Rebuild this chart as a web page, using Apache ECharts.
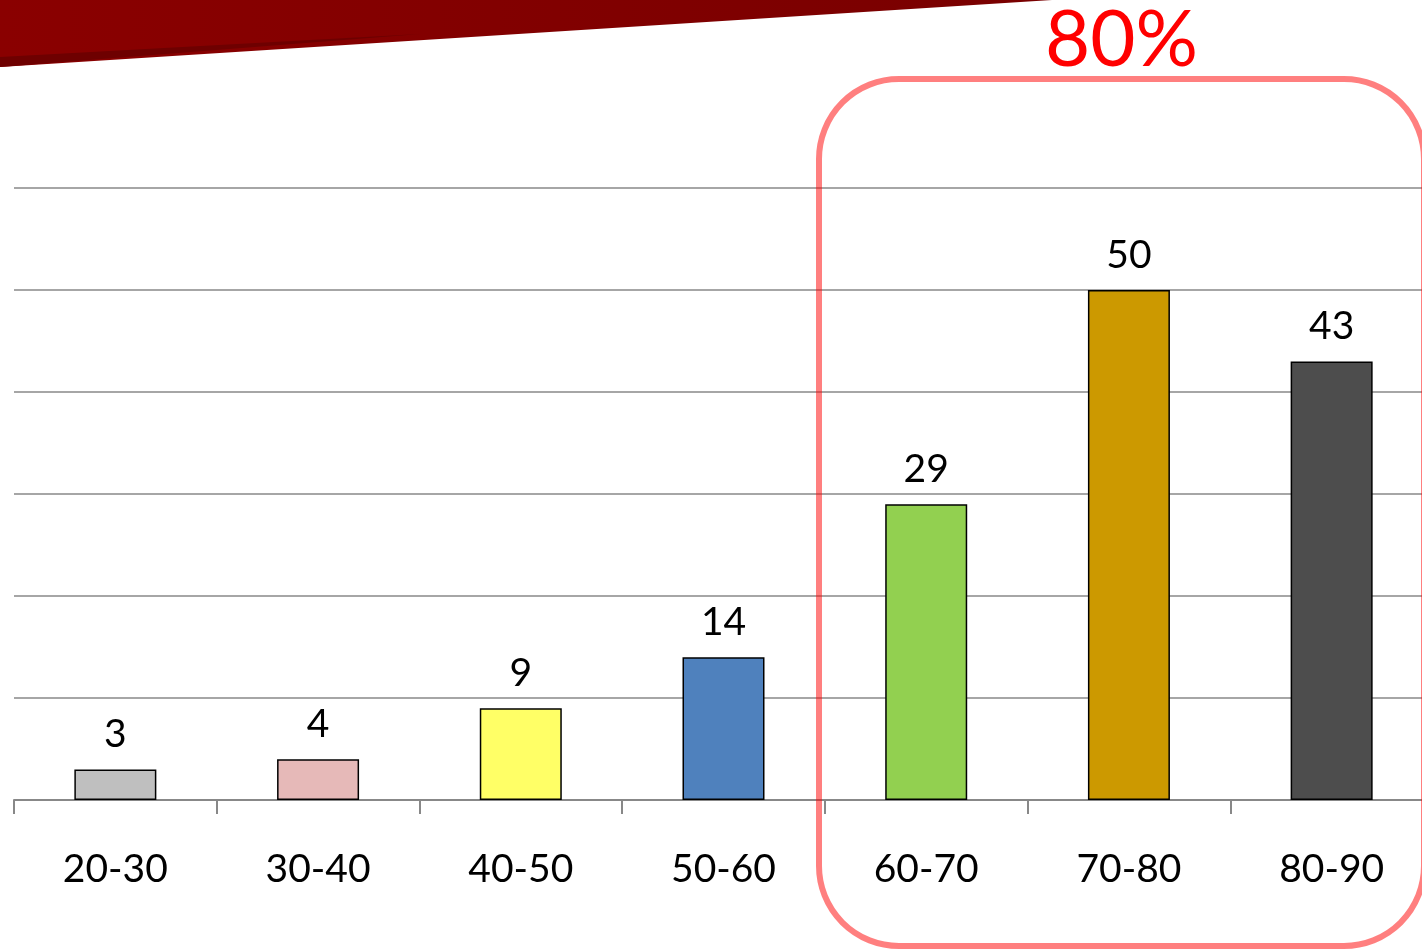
<!DOCTYPE html>
<html>
<head>
<meta charset="utf-8">
<style>
  html, body { margin: 0; padding: 0; background: #fff; }
  #chart { width: 1422px; height: 951px; }
</style>
<script src="https://cdn.jsdelivr.net/npm/echarts@6/dist/echarts.min.js"></script>
</head>
<body>
<div id="chart"></div>
<script>
const categories = ['20-30', '30-40', '40-50', '50-60', '60-70', '70-80', '80-90'];
const values = [3, 4, 9, 14, 29, 50, 43];
const yTicks = [0, 10, 20, 30, 40, 50, 60];
const highlightText = '80%';

const barColors = ['#bfbfbf', '#e6b9b8', '#ffff66', '#4f81bd', '#92d050', '#cc9900', '#4d4d4d'];

const chart = echarts.init(document.getElementById('chart'), null, { renderer: 'canvas' });

chart.setOption({
  animation: false,
  backgroundColor: '#ffffff',
  grid: { left: 14, top: 188, width: 1419, height: 612, containLabel: false, outerBoundsMode: 'none' },
  xAxis: {
    type: 'category',
    data: categories,
    axisLine: { show: true, lineStyle: { color: '#888888', width: 2 } },
    axisTick: { show: true, length: 14, lineStyle: { color: '#888888', width: 2 } },
    axisLabel: { color: '#000000', fontFamily: 'Lato', fontSize: 39, margin: 50 }
  },
  yAxis: {
    type: 'value',
    min: yTicks[0],
    max: yTicks[yTicks.length - 1],
    interval: yTicks[1] - yTicks[0],
    axisLine: { show: false },
    axisTick: { show: false },
    axisLabel: { show: false },
    splitLine: { show: true, lineStyle: { color: '#888888', width: 1.5 } }
  },
  series: [{
    type: 'bar',
    barWidth: 82,
    data: values.map((v, i) => ({
      value: v,
      itemStyle: { color: barColors[i], borderColor: '#000000', borderWidth: 1.5 }
    })),
    label: {
      show: true,
      position: 'top',
      distance: 15,
      color: '#000000',
      fontFamily: 'Lato',
      fontSize: 39
    }
  }],
  graphic: [
    {
      type: 'polygon',
      z: 10,
      shape: { points: [[0, 0], [1052, 0], [0, 67]] },
      style: { fill: new echarts.graphic.LinearGradient(0, 0, 1, 0, [
        { offset: 0, color: '#8a0000' },
        { offset: 1, color: '#790000' }
      ]) }
    },
    {
      type: 'polygon',
      z: 11,
      shape: { points: [[0, 57], [420, 34], [0, 67]] },
      style: { fill: '#6e0000' }
    },
    {
      type: 'rect',
      z: 20,
      shape: { x: 819, y: 79, width: 605, height: 867, r: 80 },
      style: { fill: 'none', stroke: 'rgba(255,0,0,0.5)', lineWidth: 6 }
    },
    {
      type: 'text',
      z: 21,
      left: 1045,
      top: 2,
      style: {
        text: highlightText,
        fill: '#ff0000',
        font: '78px Lato'
      }
    }
  ]
});
</script>
</body>
</html>
